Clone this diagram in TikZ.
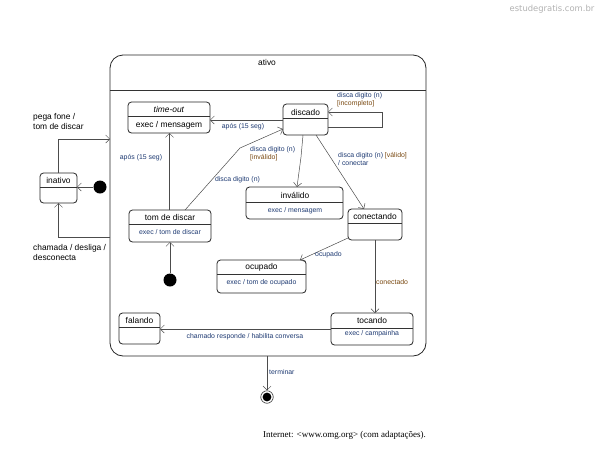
\documentclass[tikz,border=0pt]{standalone}
\usepackage{fontspec}
\setmainfont{Liberation Sans}
\newfontfamily\capfont{Liberation Serif}
\newfontfamily\wmfont{DejaVu Sans}
\usetikzlibrary{arrows.meta}
\definecolor{ev}{HTML}{1F3B73}
\definecolor{gd}{HTML}{7A4A12}
\newcommand\mkstate[6]{%
  \node[state, minimum width={#4-#2}, minimum height={#5-#3}] (#1) at ({(#2+#4)/2},{(#3+#5)/2}) {};
  \draw[divline] (#1.west |- 0,#6) -- (#1.east |- 0,#6);}
\begin{document}
\begin{tikzpicture}[x=1pt,y=-1pt,
  state/.style={draw=black!85, rounded corners=3.5pt, line width=0.8pt, inner sep=0pt, outer sep=0pt},
  divline/.style={draw=black!80, line width=0.5pt},
  tr/.style={draw=black!70, line width=0.5pt, -{Straight Barb[length=4pt,width=8pt]}},
  big/.style={font=\fontsize{8.4}{10}\selectfont, inner sep=0pt},
  sm/.style={font=\fontsize{6.9}{8}\selectfont, text=ev, inner sep=0pt, align=left},
  dot/.style={circle, fill=black, minimum size=13pt, inner sep=0pt}]
\useasboundingbox (0,0) rectangle (599,453);
\fill[white] (0,0) rectangle (599,453);

% outer composite state
\node[state, rounded corners=13pt, minimum width=316pt, minimum height=301pt] (ativo) at (268,205.5) {};
\draw[divline] (ativo.west |- 0,90) -- (ativo.east |- 0,90);
\node[big] (ativoT) at (267,62) {ativo};

% states
\mkstate{inativo}{40}{173}{77}{203}{187}
\node[big] (inativoT) at (58.5,180) {inativo};
\mkstate{timeout}{128}{102}{210}{133}{116}
\node[big] (timeoutT) at (169,109) {\textit{time-out}};
\node[big] (timeoutE) at (169,125) {exec / mensagem};
\mkstate{discado}{283}{104}{328}{135}{118}
\node[big] (discadoT) at (305.5,112) {discado};
\mkstate{tomdiscar}{129}{210}{211}{242}{224}
\node[big] (tomdiscarT) at (170,217) {tom de discar};
\node[sm] (tomdiscarE) at (170,232) {exec / tom de discar};
\mkstate{invalido}{246}{187}{343}{219}{202}
\node[big] (invalidoT) at (295,195) {inválido};
\node[sm] (invalidoE) at (295,211) {exec / mensagem};
\mkstate{conectando}{348}{209}{402}{240}{223}
\node[big] (conectandoT) at (375,216) {conectando};
\mkstate{ocupado}{217}{260}{306}{293}{274}
\node[big] (ocupadoT) at (261.5,267) {ocupado};
\node[sm] (ocupadoE) at (261.5,283) {exec / tom de ocupado};
\mkstate{tocando}{331}{313}{413}{345}{328}
\node[big] (tocandoT) at (372,320) {tocando};
\node[sm] (tocandoE) at (372,334) {exec / campainha};
\mkstate{falando}{119}{313}{160}{344}{327}
\node[big] (falandoT) at (139.5,320) {falando};

% pseudo states
\node[dot] (ini1) at (100,187) {};
\node[dot] (ini2) at (170,280) {};
\node[circle, draw=black!80, line width=0.6pt, minimum size=12.5pt, inner sep=0pt] (final) at (267,397) {};
\fill (final) circle (4.4pt);

% transitions
\draw[tr] (ini1) -- (inativo.east |- ini1);
\draw[tr] (inativo.north) |- (ativo.west |- 0,139);
\draw[tr] (ativo.west |- 0,237) -| (inativo.south);
\draw[tr] (discado.west |- 0,120) -- (timeout.east |- 0,120);
\draw[tr] (discado.east |- 0,127) -- (382,127) -- (382,112) -- (discado.east |- 0,112);
\draw[tr] (tomdiscar.north -| 169.5,0) -- (timeout.south -| 169.5,0);
\draw[tr] (ini2) -- (tomdiscar.south -| ini2);
\draw[tr] (tomdiscar.north -| 185,0) -- (240,148) -- (discado.west |- 0,129);
\draw[tr] (discado.south -| 303,0) -- (301,157) -- (invalido.north -| 297,0);
\draw[tr] (discado.south -| 316,0) -- (conectando.north -| 364,0);
\draw[tr] (conectando.west |- 0,238) -- (ocupado.north -| 300,0);
\draw[tr] (conectando.south -| 375,0) -- (tocando.north -| 375,0);
\draw[tr] (tocando.west |- 0,329) -- (falando.east |- 0,329);
\draw[tr] (ativo.south -| final) -- (final);

% labels
\node[big, anchor=west, align=left] (l1) at (33,121.5) {pega fone /\\tom de discar};
\node[big, anchor=west, align=left] (l2) at (33,252) {chamada / desliga /\\desconecta};
\node[sm] (l3) at (243,127) {após (15 seg)};
\node[sm] (l4) at (141,158) {após (15 seg)};
\node[sm] (l5) at (237.5,180) {disca digito (n)};
\node[sm, anchor=west] (l6) at (337,100) {disca digito (n)\\\textcolor{gd}{[incompleto]}};
\node[sm, anchor=west] (l7) at (250,154) {disca digito (n)\\\textcolor{gd}{[inválido]}};
\node[sm, anchor=west] (l8) at (338,158.5) {disca digito (n) \textcolor{gd}{[válido]}\\/ conectar};
\node[sm, anchor=west] (l9) at (315,255) {ocupado};
\node[sm, anchor=west, text=gd] (l10) at (376,282) {conectado};
\node[sm] (l11) at (245,337) {chamado responde / habilita conversa};
\node[sm, anchor=west] (l12) at (269,372) {terminar};

\node[anchor=west, inner sep=0pt, font=\capfont\fontsize{9}{11}\selectfont] (cap) at (263,435) {Internet: <www.omg.org> (com adaptações).};
\node[inner sep=0pt, text=black!30, font=\wmfont\fontsize{8.4}{10}\selectfont] (wm) at (552,9) {estudegratis.com.br};
\end{tikzpicture}
\end{document}
